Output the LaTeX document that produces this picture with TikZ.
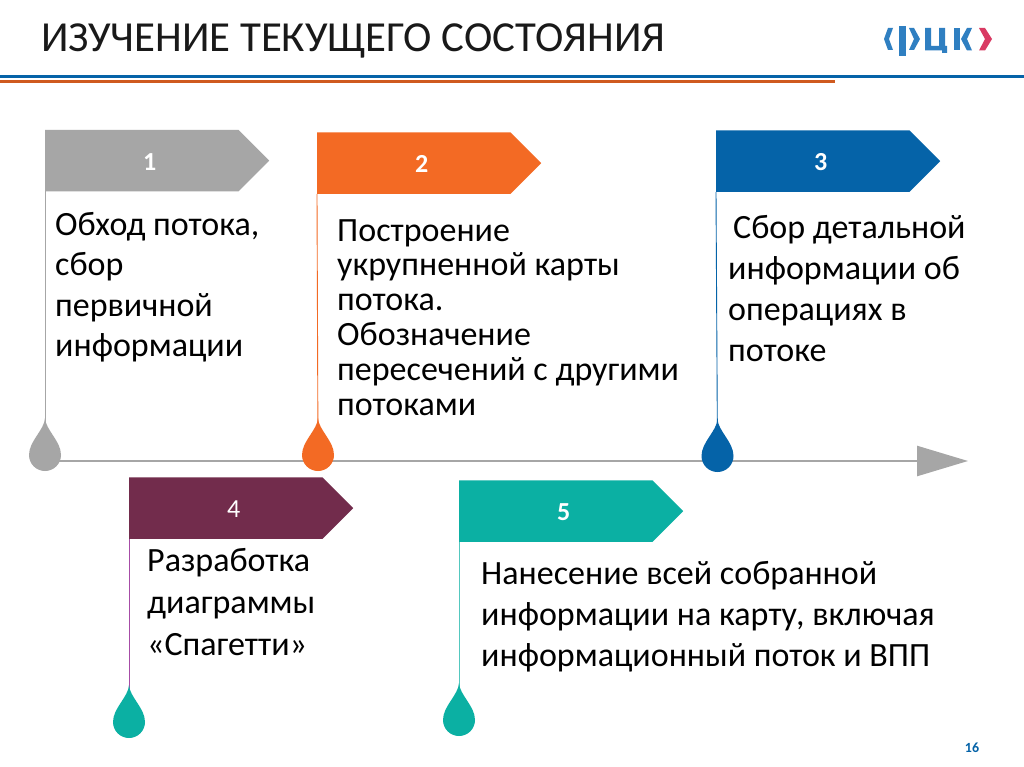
\documentclass[tikz,border=0pt]{standalone}
\usepackage{fontspec}
\setmainfont{Carlito}
\usetikzlibrary{shapes.symbols,arrows.meta}
\definecolor{flaggray}{HTML}{A6A6A6}
\definecolor{flagorange}{HTML}{F36A24}
\definecolor{flagblue}{HTML}{0563A8}
\definecolor{flagplum}{HTML}{722C4C}
\definecolor{flagteal}{HTML}{0BB0A3}
\definecolor{logoblue}{HTML}{2F7FC1}
\definecolor{logored}{HTML}{D93A63}
\tikzset{
  flag/.style={signal,signal to=east,signal pointer angle=90,fill=#1,text=white,
    minimum width=224,minimum height=61.5,inner sep=0pt,anchor=south west,
    text height=19pt,text depth=0pt,
    font=\bfseries\fontsize{26}{28}\selectfont,execute at begin node={\hspace*{16pt}}},
  body/.style={anchor=north west,inner sep=0pt,align=left,text=black},
  stem/.style={draw=#1,line width=0.9pt},
  pics/drop/.style={code={
    \fill[#1] (0,-37) .. controls (0.6,-25) and (16,-14) .. (16,0)
      arc[start angle=0,end angle=180,radius=16]
      .. controls (-16,-14) and (-0.6,-25) .. (0,-37) -- cycle;}}
}
\begin{document}
\begin{tikzpicture}[x=1pt,y=-1pt]
\useasboundingbox[fill=white] (0,0) rectangle (1024,767);
% header
\node [anchor=base west,inner sep=0pt,font=\fontsize{42.8}{46}\selectfont,text=black!90] (title) at (41,52) {ИЗУЧЕНИЕ ТЕКУЩЕГО СОСТОЯНИЯ};
\fill[flagblue] (0,75.2) rectangle (1024,78.2);
\fill[flagorange!85!black] (0,80.3) rectangle (835,83.3);
% logo
\fill[logoblue] (888,28) -- (893,28) -- (889,39) -- (893,50) -- (888,50) -- (884,39) -- cycle;
\fill[logoblue] (899,26) rectangle (905.5,56);
\fill[logoblue] (909,28) -- (914,28) -- (920,39) -- (914,50) -- (909,50) -- (914,39) -- cycle;
\fill[logoblue] (925,28) -- (931,28) -- (931,46) -- (939,46) -- (939,28) -- (945,28) -- (945,46) -- (947,46) -- (947,53) -- (942,53) -- (942,50.5) -- (925,50.5) -- cycle;
\fill[logoblue] (954,28) rectangle (960,50.5);
\fill[logoblue] (967,28) -- (972,28) -- (967,39) -- (972,50.5) -- (967,50.5) -- (961,39) -- cycle;
\fill[logored] (979,28) -- (985,28) -- (992,39) -- (985,50.5) -- (979,50.5) -- (985,39) -- cycle;
% axis
\coordinate (dropA) at (45,455);
\coordinate (dropB) at (318,455);
\coordinate (dropC) at (717.5,456);
\coordinate (dropD) at (129,722);
\coordinate (dropE) at (459,720);
\coordinate (axisend) at (968,461);
\draw[flaggray,line width=2.4pt,-{Triangle[length=51pt,width=30pt]}] (dropA |- axisend) -- (axisend);
% flags
\node [flag=flaggray] (flagA) at (45,191.5) {1};
\node [flag=flagorange] (flagB) at (317,194) {2};
\node [flag=flagblue] (flagC) at (716,192) {3};
\node [flag=flagplum,font=\fontsize{26}{28}\selectfont] (flagD) at (129,539) {4};
\node [flag=flagteal] (flagE) at (459,542) {5};
% stems
\draw[stem=flaggray] (flagA.south west) -- (dropA);
\draw[stem=flagorange] (flagB.south west) -- (dropB);
\draw[stem=flagblue] (flagC.south west) -- (dropC);
\draw[stem=violet!70] (flagD.south west) -- (dropD);
\draw[stem=flagteal!70] (flagE.south west) -- (dropE);
% drops
\pic at (dropA) {drop=flaggray};
\pic at (dropB) {drop=flagorange};
\pic at (dropC) {drop=flagblue};
\pic at (dropD) {drop=flagteal};
\pic at (dropE) {drop=flagteal};
% texts
\node [body,font=\fontsize{34}{40.5}\selectfont] (textA) at (55,212) {Обход потока,\\сбор\\первичной\\информации};
\node [body,font=\fontsize{34}{34.8}\selectfont] (textB) at (337,219) {Построение\\укрупненной карты\\потока.\\Обозначение\\пересечений с другими\\потоками};
\node [body,font=\fontsize{34}{41}\selectfont] (textC) at (728,215) {\hspace*{5pt}Сбор детальной\\информации об\\операциях в\\потоке};
\node [body,font=\fontsize{34}{42}\selectfont] (textD) at (147,548) {Разработка\\диаграммы\\«Спагетти»};
\node [body,font=\fontsize{34}{41}\selectfont] (textE) at (481,561) {Нанесение всей собранной\\информации на карту, включая\\информационный поток и ВПП};
\node [inner sep=0pt,text=flagblue,font=\bfseries\fontsize{14}{16}\selectfont] (pagenum) at (972,748) {16};
\end{tikzpicture}
\end{document}
